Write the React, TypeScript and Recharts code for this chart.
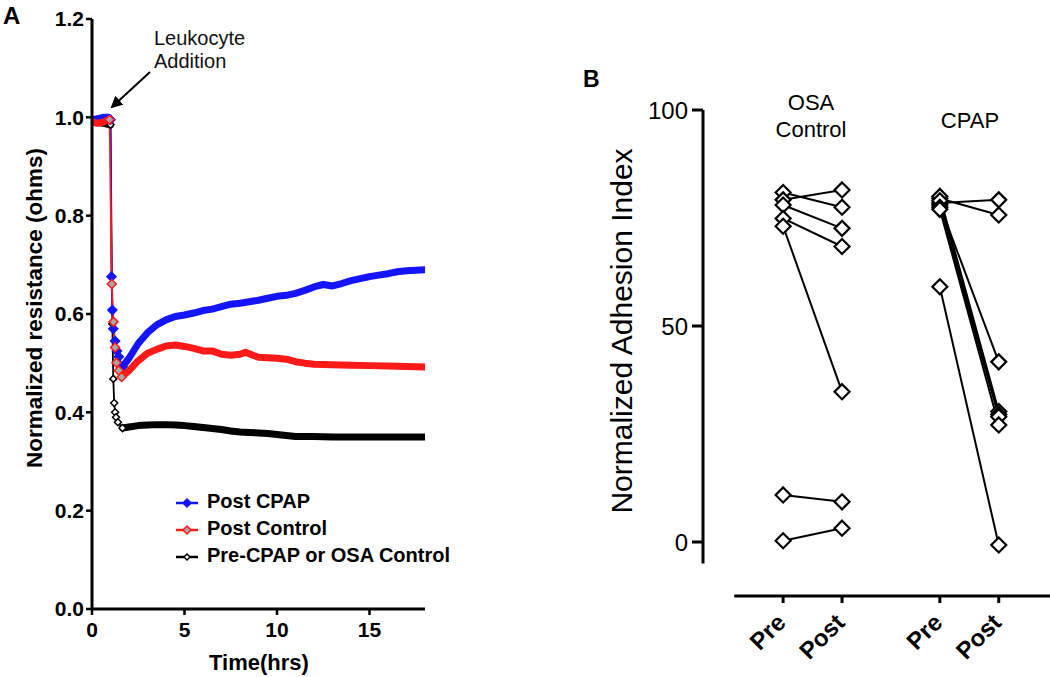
import React from "react";
import { LineChart, Line, XAxis, YAxis, ReferenceLine } from "recharts";

const FONT = '"Liberation Sans", Arial, Helvetica, sans-serif';

// ---- Panel A: normalized resistance vs time ----
const preHours = [0, 0.3, 0.6, 0.9, 1.0, 1.1, 1.15, 1.2, 1.25, 1.3, 1.4, 1.65, 2.0, 2.5, 3.0, 3.5, 4.0, 4.5, 5.0, 5.5, 6.0, 6.5, 7.0, 7.5, 8.0, 8.5, 9.0, 9.5, 10.0, 10.5, 11.0, 12.0, 13.0, 14.0, 15.0, 16.0, 17.0, 18.0];
const preResistance = [0.99, 0.99, 0.988, 0.985, 0.985, 0.58, 0.468, 0.419, 0.4, 0.39, 0.38, 0.368, 0.37, 0.373, 0.374, 0.375, 0.375, 0.374, 0.373, 0.371, 0.369, 0.367, 0.365, 0.362, 0.36, 0.359, 0.358, 0.357, 0.355, 0.353, 0.351, 0.351, 0.35, 0.35, 0.35, 0.35, 0.35, 0.35];

const cpapHours = [0, 0.3, 0.6, 0.9, 1.0, 1.05, 1.1, 1.15, 1.25, 1.35, 1.45, 1.65, 2.0, 2.5, 3.0, 3.5, 4.0, 4.5, 5.0, 5.5, 6.0, 6.5, 7.0, 7.5, 8.0, 8.5, 9.0, 9.5, 10.0, 10.5, 11.0, 11.5, 12.0, 12.5, 13.0, 13.5, 14.0, 14.5, 15.0, 15.5, 16.0, 16.5, 17.0, 17.5, 18.0];
const cpapResistance = [0.995, 0.997, 1.0, 1.0, 0.995, 0.676, 0.608, 0.57, 0.545, 0.525, 0.513, 0.493, 0.51, 0.54, 0.562, 0.578, 0.588, 0.595, 0.598, 0.602, 0.607, 0.61, 0.615, 0.62, 0.622, 0.625, 0.628, 0.632, 0.636, 0.638, 0.642, 0.648, 0.655, 0.66, 0.657, 0.662, 0.668, 0.672, 0.676, 0.679, 0.682, 0.686, 0.688, 0.689, 0.69];

const controlHours = [0, 0.3, 0.6, 0.9, 0.95, 1.07, 1.16, 1.25, 1.32, 1.45, 1.6, 2.0, 2.5, 3.0, 3.5, 4.0, 4.5, 5.0, 5.5, 6.0, 6.5, 7.0, 7.5, 8.0, 8.3, 8.7, 9.0, 9.5, 10.0, 10.5, 11.0, 11.5, 12.0, 13.0, 14.0, 15.0, 16.0, 17.0, 18.0];
const controlResistance = [0.99, 0.988, 0.99, 0.995, 0.995, 0.661, 0.584, 0.532, 0.501, 0.485, 0.472, 0.485, 0.505, 0.52, 0.528, 0.535, 0.537, 0.534, 0.53, 0.525, 0.525, 0.518, 0.516, 0.518, 0.522, 0.516, 0.512, 0.511, 0.51, 0.508, 0.503, 0.5, 0.498, 0.497, 0.496, 0.495, 0.494, 0.493, 0.492];

const timeTicks = [0, 5, 10, 15];
const resistanceTicks = [0, 0.2, 0.4, 0.6, 0.8, 1.0, 1.2];

// ---- Panel B: paired adhesion index ----
const groupNames = ["OSA\nControl", "CPAP"];
const phaseLabels = ["Pre", "Post", "Pre", "Post"];
const phasePositions = [1, 2, 3.66, 4.66];
const osaPre = [80.9, 79.2, 78.0, 74.9, 73.1, 10.9, 0.3];
const osaPost = [77.5, 81.5, 72.6, 68.4, 34.8, 9.3, 3.2];
const cpapPre = [78.5, 79.5, 78.0, 80.0, 79.0, 77.5, 77.0, 59.1];
const cpapPost = [79.2, 75.7, 41.7, 30.2, 29.5, 29.0, 27.1, -0.7];
const adhesionTicks = [0, 50, 100];

// draw order: black under blue under red
const seriesA = [
  { name: "Pre-CPAP or OSA Control", hours: preHours, values: preResistance, color: "#000000", fill: "#ffffff", size: 3.5, drop: [4, 11] },
  { name: "Post CPAP", hours: cpapHours, values: cpapResistance, color: "#1414ff", fill: "#1414ff", size: 4.5, drop: [4, 11] },
  { name: "Post Control", hours: controlHours, values: controlResistance, color: "#ff1a1a", fill: "#a8a8a8", size: 4.5, drop: [4, 10] },
];
const legendOrder = [1, 2, 0];

const diamondPath = (cx: number, cy: number, r: number) =>
  `M${cx},${cy - r} L${cx + r},${cy} L${cx},${cy + r} L${cx - r},${cy} Z`;

const PhaseTick = (props: any) => {
  const { x, y, payload } = props;
  const idx = phasePositions.indexOf(payload.value);
  const ax = x + 4;
  const ay = y + 21;
  return (
    <text
      x={ax}
      y={ay}
      transform={`rotate(-45 ${ax} ${ay})`}
      textAnchor="end"
      fontFamily={FONT}
      fontWeight="bold"
      fontSize={24}
      fill="#000"
    >
      {phaseLabels[idx]}
    </text>
  );
};

export default function App() {
  const pairs = [
    ...osaPre.map((pre, i) => ({
      id: `osa-${i}`,
      data: [
        { x: phasePositions[0], y: pre },
        { x: phasePositions[1], y: osaPost[i] },
      ],
    })),
    ...cpapPre.map((pre, i) => ({
      id: `cpap-${i}`,
      data: [
        { x: phasePositions[2], y: pre },
        { x: phasePositions[3], y: cpapPost[i] },
      ],
    })),
  ];

  const linesA = seriesA.flatMap((s) => {
    const pts = s.hours.map((t, i) => ({ t, v: s.values[i] }));
    const [a, b] = s.drop;
    return [
      <Line
        key={`${s.name}-pre`}
        data={pts.slice(0, a + 1)}
        dataKey="v"
        type="linear"
        stroke={s.color}
        strokeWidth={7}
        strokeLinecap="round"
        strokeLinejoin="round"
        dot={false}
        isAnimationActive={false}
      />,
      <Line
        key={`${s.name}-post`}
        data={pts.slice(b)}
        dataKey="v"
        type="linear"
        stroke={s.color}
        strokeWidth={7}
        strokeLinecap="round"
        strokeLinejoin="round"
        dot={false}
        isAnimationActive={false}
      />,
      <Line
        key={`${s.name}-drop`}
        data={pts.slice(a, b + 1)}
        dataKey="v"
        type="linear"
        stroke={s.color}
        strokeWidth={1.8}
        dot={(p: any) => (
          <path
            key={`${s.name}-dot-${p.index}`}
            d={diamondPath(p.cx, p.cy, s.size)}
            fill={s.fill}
            stroke={s.color}
            strokeWidth={1.5}
          />
        )}
        isAnimationActive={false}
      />,
    ];
  });

  return (
    <div
      style={{
        position: "absolute",
        left: 0,
        top: 0,
        width: 1050,
        height: 677,
        background: "#fff",
        fontFamily: FONT,
      }}
    >
      {/* Panel A */}
      <div style={{ position: "absolute", left: 0, top: 0 }}>
        <LineChart
          width={460}
          height={677}
          margin={{ top: 19, right: 35, bottom: 38, left: 0 }}
        >
          <XAxis
            type="number"
            dataKey="t"
            domain={[0, 18]}
            ticks={timeTicks}
            allowDataOverflow
            height={30}
            tickSize={6}
            tickMargin={7}
            axisLine={{ stroke: "#000", strokeWidth: 3 }}
            tickLine={{ stroke: "#000", strokeWidth: 2.5 }}
            tick={{ fill: "#000", fontSize: 21, fontWeight: "bold", fontFamily: FONT }}
            label={{
              content: () => (
                <text
                  x={259}
                  y={670}
                  textAnchor="middle"
                  fontFamily={FONT}
                  fontWeight="bold"
                  fontSize={22}
                  fill="#000"
                >
                  Time(hrs)
                </text>
              ),
            }}
          />
          <YAxis
            type="number"
            domain={[0, 1.2]}
            ticks={resistanceTicks}
            allowDataOverflow
            width={92}
            tickSize={6}
            tickFormatter={(v: number) => v.toFixed(1)}
            axisLine={{ stroke: "#000", strokeWidth: 3 }}
            tickLine={{ stroke: "#000", strokeWidth: 2.5 }}
            tick={{ fill: "#000", fontSize: 21, fontWeight: "bold", fontFamily: FONT }}
            label={{
              content: () => (
                <text
                  x={42}
                  y={308}
                  transform="rotate(-90 42 308)"
                  textAnchor="middle"
                  fontFamily={FONT}
                  fontWeight="bold"
                  fontSize={22.5}
                  fill="#000"
                >
                  Normalized resistance (ohms)
                </text>
              ),
            }}
          />
          {linesA}
        </LineChart>
      </div>

      {/* Panel B */}
      <div style={{ position: "absolute", left: 560, top: 0 }}>
        <LineChart
          width={490}
          height={677}
          margin={{ top: 110, right: 0, bottom: 11, left: 0 }}
        >
          <XAxis
            type="number"
            dataKey="x"
            domain={[-0.36, 5.53]}
            ticks={phasePositions}
            interval={0}
            allowDataOverflow
            height={70}
            tickSize={7}
            tickMargin={0}
            axisLine={false}
            tickLine={{ stroke: "#000", strokeWidth: 3 }}
            tick={<PhaseTick />}
          />
          <YAxis
            type="number"
            domain={[-12.5, 100]}
            ticks={adhesionTicks}
            allowDataOverflow
            width={143}
            tickSize={11}
            tickMargin={4}
            axisLine={false}
            tickLine={{ stroke: "#000", strokeWidth: 3 }}
            tick={{ fill: "#000", fontSize: 24, fontFamily: FONT }}
            label={{
              content: () => (
                <text
                  x={72}
                  y={331}
                  transform="rotate(-90 72 331)"
                  textAnchor="middle"
                  fontFamily={FONT}
                  fontSize={30}
                  fill="#000"
                >
                  Normalized Adhesion Index
                </text>
              ),
            }}
          />
          <ReferenceLine
            segment={[
              { x: -0.36, y: -5 },
              { x: -0.36, y: 100 },
            ]}
            stroke="#000"
            strokeWidth={3}
            ifOverflow="visible"
          />
          <ReferenceLine
            segment={[
              { x: 0.17, y: -12.5 },
              { x: 5.53, y: -12.5 },
            ]}
            stroke="#000"
            strokeWidth={3}
            ifOverflow="visible"
          />
          {pairs.map((p) => (
            <Line
              key={`${p.id}-line`}
              data={p.data}
              dataKey="y"
              type="linear"
              stroke="#000"
              strokeWidth={2}
              dot={false}
              isAnimationActive={false}
            />
          ))}
          {pairs.map((p) => (
            <Line
              key={`${p.id}-dots`}
              data={p.data}
              dataKey="y"
              type="linear"
              stroke="none"
              dot={(d: any) => (
                <path
                  key={`${p.id}-d-${d.index}`}
                  d={diamondPath(d.cx, d.cy, 7.5)}
                  fill="#fff"
                  stroke="#000"
                  strokeWidth={2.2}
                />
              )}
              isAnimationActive={false}
            />
          ))}
        </LineChart>
      </div>

      {/* annotations */}
      <svg
        width={1050}
        height={677}
        style={{ position: "absolute", left: 0, top: 0, pointerEvents: "none" }}
      >
        <defs>
          <marker id="arrowHead" markerWidth="12" markerHeight="12" refX="10" refY="6" orient="auto" markerUnits="userSpaceOnUse">
            <path d="M0,0 L12,6 L0,12 Z" fill="#000" />
          </marker>
        </defs>
        <text x={3} y={24} fontFamily={FONT} fontWeight="bold" fontSize={24} fill="#000">
          A
        </text>
        <text x={583} y={87} fontFamily={FONT} fontWeight="bold" fontSize={23} fill="#000">
          B
        </text>
        <text x={154} y={45} fontFamily={FONT} fontSize={20} fill="#111">
          Leukocyte
        </text>
        <text x={154} y={68} fontFamily={FONT} fontSize={20} fill="#111">
          Addition
        </text>
        <line x1={150} y1={72} x2={112} y2={107} stroke="#000" strokeWidth={2} markerEnd="url(#arrowHead)" />

        {/* legend for panel A */}
        {legendOrder.map((si, row) => {
          const s = seriesA[si];
          const cy = 503 + row * 27;
          return (
            <g key={s.name}>
              <line x1={176} y1={cy} x2={198} y2={cy} stroke={s.color} strokeWidth={2.5} />
              <path d={diamondPath(187, cy, s.size - 0.5)} fill={s.fill} stroke={s.color} strokeWidth={1.5} />
              <text x={207} y={cy + 5} fontFamily={FONT} fontWeight="bold" fontSize={20} fill="#000">
                {s.name}
              </text>
            </g>
          );
        })}

        {/* group labels for panel B */}
        <text x={811} y={110} textAnchor="middle" fontFamily={FONT} fontSize={22} fill="#000">
          {groupNames[0].split("\n")[0]}
        </text>
        <text x={811} y={137} textAnchor="middle" fontFamily={FONT} fontSize={22} fill="#000">
          {groupNames[0].split("\n")[1]}
        </text>
        <text x={970} y={128} textAnchor="middle" fontFamily={FONT} fontSize={22} fill="#000">
          {groupNames[1]}
        </text>
      </svg>
    </div>
  );
}
